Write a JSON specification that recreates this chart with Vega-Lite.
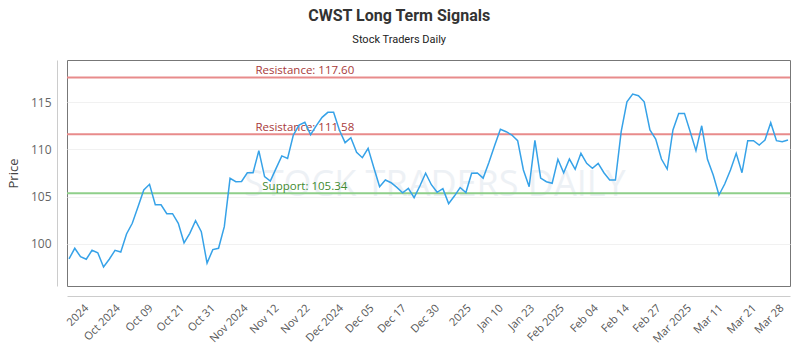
{
  "$schema": "https://vega.github.io/schema/vega-lite/v6.json",
  "width": 723,
  "height": 226,
  "autosize": {"type": "none"},
  "padding": {"left": 67, "top": 60, "right": 10, "bottom": 64},
  "background": "white",
  "title": {
    "text": "CWST Long Term Signals",
    "subtitle": "Stock Traders Daily",
    "anchor": "middle",
    "frame": "bounds",
    "font": "Roboto",
    "fontSize": 16,
    "fontWeight": "bold",
    "color": "#333333",
    "subtitleFont": "Roboto",
    "subtitleFontSize": 11,
    "subtitleColor": "#222222",
    "subtitlePadding": 10,
    "offset": 15
  },
  "config": {
    "view": {"stroke": "#777777", "strokeWidth": 1},
    "font": "Open Sans",
    "axisX": {"labelOverlap": false, "labelFlush": false, "labelBound": false}
  },
  "datasets": {
    "prices": [
      {"i":0,"price":98.39},{"i":1,"price":99.52},{"i":2,"price":98.63},{"i":3,"price":98.36},{"i":4,"price":99.31},
      {"i":5,"price":99.05},{"i":6,"price":97.54},{"i":7,"price":98.36},{"i":8,"price":99.31},{"i":9,"price":99.13},
      {"i":10,"price":101.04},{"i":11,"price":102.17},{"i":12,"price":103.92},{"i":13,"price":105.69},{"i":14,"price":106.29},
      {"i":15,"price":104.13},{"i":16,"price":104.13},{"i":17,"price":103.18},{"i":18,"price":103.18},{"i":19,"price":102.17},
      {"i":20,"price":100.1},{"i":21,"price":101.11},{"i":22,"price":102.44},{"i":23,"price":101.28},{"i":24,"price":97.95},
      {"i":25,"price":99.38},{"i":26,"price":99.52},{"i":27,"price":101.81},{"i":28,"price":106.93},{"i":29,"price":106.57},
      {"i":30,"price":106.6},{"i":31,"price":107.52},{"i":32,"price":107.52},{"i":33,"price":109.85},{"i":34,"price":107.1},
      {"i":35,"price":106.64},{"i":36,"price":107.98},{"i":37,"price":109.3},{"i":38,"price":109.04},{"i":39,"price":111.51},
      {"i":40,"price":112.57},{"i":41,"price":112.85},{"i":42,"price":111.55},{"i":43,"price":112.5},{"i":44,"price":113.38},
      {"i":45,"price":113.91},{"i":46,"price":113.91},{"i":47,"price":112.04},{"i":48,"price":110.7},{"i":49,"price":111.22},
      {"i":50,"price":109.68},{"i":51,"price":109.11},{"i":52,"price":110.1},{"i":53,"price":108.05},{"i":54,"price":106.04},
      {"i":55,"price":106.75},{"i":56,"price":106.46},{"i":57,"price":105.97},{"i":58,"price":105.4},{"i":59,"price":105.87},
      {"i":60,"price":104.88},{"i":61,"price":106.11},{"i":62,"price":107.46},{"i":63,"price":106.25},{"i":64,"price":105.45},
      {"i":65,"price":105.83},{"i":66,"price":104.25},{"i":67,"price":105.05},{"i":68,"price":105.95},{"i":69,"price":105.42},
      {"i":70,"price":107.46},{"i":71,"price":107.5},{"i":72,"price":106.95},{"i":73,"price":108.6},{"i":74,"price":110.4},
      {"i":75,"price":112.11},{"i":76,"price":111.86},{"i":77,"price":111.51},{"i":78,"price":110.91},{"i":79,"price":107.81},
      {"i":80,"price":106.04},{"i":81,"price":110.95},{"i":82,"price":106.95},{"i":83,"price":106.57},{"i":84,"price":106.4},
      {"i":85,"price":108.94},{"i":86,"price":107.52},{"i":87,"price":108.97},{"i":88,"price":107.88},{"i":89,"price":109.57},
      {"i":90,"price":108.51},{"i":91,"price":107.99},{"i":92,"price":108.51},{"i":93,"price":107.52},{"i":94,"price":106.75},
      {"i":95,"price":106.75},{"i":96,"price":111.86},{"i":97,"price":115.03},{"i":98,"price":115.85},{"i":99,"price":115.67},
      {"i":100,"price":115.03},{"i":101,"price":112.04},{"i":102,"price":111.09},{"i":103,"price":108.97},{"i":104,"price":107.91},
      {"i":105,"price":112.04},{"i":106,"price":113.8},{"i":107,"price":113.8},{"i":108,"price":111.86},{"i":109,"price":109.85},
      {"i":110,"price":112.49},{"i":111,"price":108.94},{"i":112,"price":107.28},{"i":113,"price":105.16},{"i":114,"price":106.32},
      {"i":115,"price":107.81},{"i":116,"price":109.57},{"i":117,"price":107.52},{"i":118,"price":110.91},{"i":119,"price":110.91},
      {"i":120,"price":110.45},{"i":121,"price":110.98},{"i":122,"price":112.81},{"i":123,"price":110.91},{"i":124,"price":110.8},
      {"i":125,"price":110.98}
    ],
    "levels": [
      {"level":117.6,"label":"Resistance: 117.60","kind":"Resistance"},
      {"level":111.58,"label":"Resistance: 111.58","kind":"Resistance"},
      {"level":105.34,"label":"Support: 105.34","kind":"Support"}
    ]
  },
  "layer": [
    {
      "data": {"values": [{"text": "STOCK TRADERS DAILY"}]},
      "mark": {"type": "text", "fontSize": 36, "font": "Open Sans", "color": "#dfe6ee", "opacity": 0.55, "align": "center", "baseline": "middle"},
      "encoding": {
        "x": {"datum": 63.6},
        "y": {"datum": 106.2},
        "text": {"field": "text"}
      }
    },
    {
      "data": {"name": "levels"},
      "mark": {"type": "rule", "strokeWidth": 2},
      "encoding": {
        "y": {"field": "level", "type": "quantitative"},
        "color": {
          "field": "kind", "type": "nominal", "legend": null,
          "scale": {"domain": ["Resistance", "Support"], "range": ["#e88b8b", "#8fcf8a"]}
        }
      }
    },
    {
      "data": {"name": "levels"},
      "mark": {"type": "text", "fontSize": 11.5, "font": "Open Sans", "align": "center", "baseline": "bottom", "dy": -1},
      "encoding": {
        "x": {"datum": 41},
        "y": {"field": "level", "type": "quantitative"},
        "text": {"field": "label"},
        "color": {"condition": {"test": "datum.kind === 'Support'", "value": "#3f8a30"}, "value": "#a83a3a"}
      }
    },
    {
      "data": {"name": "prices"},
      "mark": {"type": "line", "color": "#36a2e8", "strokeWidth": 1.5},
      "encoding": {
        "x": {
          "field": "i", "type": "quantitative",
          "scale": {"domain": [-0.35, 125.35], "nice": false, "zero": false},
          "axis": {
            "title": null,
            "values": [2.3, 7.8, 13.5, 18.9, 24.3, 30, 35.4, 40.8, 46.6, 51.9, 57.5, 63.3, 68.8, 74.4, 79.8, 85, 90.9, 96.3, 101.8, 107.1, 112.6, 118.4, 123.2],
            "tickCount": 40,
            "labelExpr": "['2024','Oct 2024','Oct 09','Oct 21','Oct 31','Nov 2024','Nov 12','Nov 22','Dec 2024','Dec 05','Dec 17','Dec 30','2025','Jan 10','Jan 23','Feb 2025','Feb 04','Feb 14','Feb 27','Mar 2025','Mar 11','Mar 21','Mar 28'][indexof([2.3, 7.8, 13.5, 18.9, 24.3, 30, 35.4, 40.8, 46.6, 51.9, 57.5, 63.3, 68.8, 74.4, 79.8, 85, 90.9, 96.3, 101.8, 107.1, 112.6, 118.4, 123.2], datum.value)]",
            "labelAngle": -45,
            "labelFontSize": 11,
            "labelFont": "Open Sans",
            "labelColor": "#555555",
            "labelPadding": 6,
            "labelOverlap": false,
            "labelFlush": false,
            "ticks": false,
            "grid": false,
            "offset": 10,
            "domainColor": "#cccccc"
          }
        },
        "y": {
          "field": "price", "type": "quantitative",
          "scale": {"domain": [95.53, 119.45], "nice": false, "zero": false},
          "axis": {
            "title": "Price",
            "titleFont": "Open Sans",
            "titleFontSize": 13,
            "titleFontWeight": "normal",
            "titleColor": "#444444",
            "titlePadding": 10,
            "values": [100, 105, 110, 115],
            "labelFontSize": 12,
            "labelFont": "Open Sans",
            "labelColor": "#666666",
            "labelPadding": 6,
            "ticks": false,
            "offset": 10,
            "domainColor": "#cccccc",
            "grid": true,
            "gridColor": "#f1f1f1"
          }
        }
      }
    }
  ]
}
